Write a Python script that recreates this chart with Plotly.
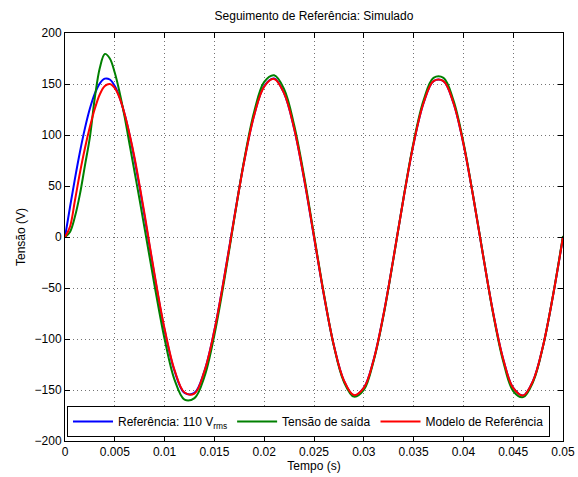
import plotly.graph_objects as go

# time samples (s): 0.5 ms steps up to 10 ms, then 1 ms steps
t_s = [0.0, 0.0005, 0.001, 0.0015, 0.002, 0.0025, 0.003, 0.0035, 0.004, 0.0045,
       0.005, 0.0055, 0.006, 0.0065, 0.007, 0.0075, 0.008, 0.0085, 0.009, 0.0095,
       0.010, 0.011, 0.012, 0.013, 0.014, 0.015, 0.016, 0.017, 0.018, 0.019,
       0.020, 0.021, 0.022, 0.023, 0.024, 0.025, 0.026, 0.027, 0.028, 0.029,
       0.030, 0.031, 0.032, 0.033, 0.034, 0.035, 0.036, 0.037, 0.038, 0.039,
       0.040, 0.041, 0.042, 0.043, 0.044, 0.045, 0.046, 0.047, 0.048, 0.049,
       0.050]

referencia = [0, 29.2, 57.3, 83.4, 106.5, 125.9, 140.8, 150.7, 155.3, 154.4,
              148.0, 136.4, 119.9, 99.2, 75.0, 48.1, 19.5, -9.8, -38.7, -66.3,
              -91.5, -131.4, -152.9, -152.9, -131.4, -91.5, -38.7, 19.5, 75.0, 119.9,
              148.0, 155.3, 140.8, 106.6, 57.3, 0, -57.3, -106.6, -140.8, -155.3,
              -148.0, -119.9, -75.0, -19.5, 38.7, 91.5, 131.4, 152.9, 152.9, 131.4,
              91.5, 38.7, -19.5, -75.0, -119.9, -148.0, -155.3, -140.8, -106.6, -57.3,
              0]

saida = [0, 5, 20, 42, 70, 98, 137, 166, 179.5, 175,
         161, 141, 117, 90, 63, 36, 8, -20, -48, -75,
         -100, -140, -159.5, -158, -137, -96, -42, 18, 76, 123,
         152, 158.5, 145, 110, 60, 2, -56, -107, -142, -156.5,
         -150, -121, -76, -20, 39, 93, 134, 156, 156, 134,
         93, 39, -19, -76, -122, -151, -157, -142, -107, -57,
         1]

modelo = [0, 10, 36, 63, 87, 108, 126, 140, 148, 150,
          146, 136, 120, 100, 77, 50, 22, -8, -37, -65,
          -90, -130.5, -152.5, -153.5, -131.5, -91.5, -39, 19, 74.5, 119.5,
          147.5, 155, 140.8, 106.6, 57.5, 0.5, -57, -106.5, -140.5, -155,
          -148, -120, -75, -19.5, 38.5, 91.5, 131.4, 152.9, 152.9, 131.4,
          91.5, 38.7, -19.5, -75.0, -119.9, -148.0, -155.3, -140.8, -106.6, -57.3,
          0]

series_names = ["Referência: 110 V<sub>rms</sub>", "Tensão de saída", "Modelo de Referência"]
series_colors = ["#0000FF", "#008000", "#FF0000"]

x_ticks = [0, 0.005, 0.01, 0.015, 0.02, 0.025, 0.03, 0.035, 0.04, 0.045, 0.05]
x_tick_text = ["0", "0.005", "0.01", "0.015", "0.02", "0.025", "0.03", "0.035", "0.04", "0.045", "0.05"]
y_ticks = [-200, -150, -100, -50, 0, 50, 100, 150, 200]
y_tick_text = ["\u2212200", "\u2212150", "\u2212100", "\u221250", "0", "50", "100", "150", "200"]

FONT = "Liberation Sans, Arial, Helvetica, sans-serif"

fig = go.Figure()
for name, ys, col in zip(series_names, [referencia, saida, modelo], series_colors):
    fig.add_trace(go.Scatter(x=t_s, y=ys, mode="lines", name=name,
                             line=dict(color=col, width=2, shape="spline", smoothing=1.0)))

axis_common = dict(showline=True, linecolor="black", linewidth=1, mirror="ticks",
                   ticks="inside", ticklen=5, tickcolor="black", tickwidth=1,
                   showgrid=True, gridcolor="rgba(0,0,0,0.55)", gridwidth=1,
                   griddash="1px,3px", zeroline=False, automargin=False,
                   tickfont=dict(family=FONT, size=12, color="black"))

fig.update_xaxes(range=[0, 0.05], tickvals=x_ticks, ticktext=x_tick_text,
                 title=dict(text="Tempo (s)", font=dict(family=FONT, size=12, color="black"), standoff=2),
                 **axis_common)
fig.update_yaxes(range=[-200, 200], tickvals=y_ticks, ticktext=y_tick_text,
                 title=dict(text="Tensão (V)", font=dict(family=FONT, size=12, color="black"), standoff=6),
                 **axis_common)

fig.update_layout(
    width=578, height=477,
    margin=dict(l=65, r=15, t=33, b=36),
    paper_bgcolor="white", plot_bgcolor="white",
    font=dict(family=FONT, size=12, color="black"),
    title=dict(text="Seguimento de Referência: Simulado", x=0.5, xref="paper",
               y=1 - 16 / 477, yanchor="middle",
               font=dict(family=FONT, size=12, color="black"), automargin=False),
    showlegend=True,
    legend=dict(orientation="h", x=0.004, y=0.01, xanchor="left", yanchor="bottom",
                bgcolor="white", bordercolor="black", borderwidth=1,
                font=dict(family=FONT, size=12, color="black"),
                itemwidth=40, tracegroupgap=0),
)

fig.write_html("out.html")
